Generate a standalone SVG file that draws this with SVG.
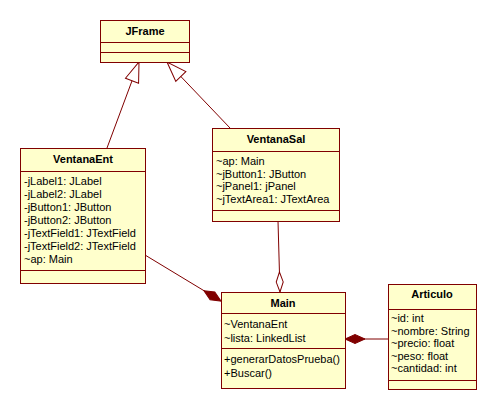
<svg xmlns="http://www.w3.org/2000/svg" width="496" height="411" viewBox="0 0 496 411">
<style>
.box{fill:#FFFFCC;stroke:#800000;stroke-width:1}
.sep{stroke:#800000;stroke-width:1}
.t{font-family:"Liberation Sans",Arial,sans-serif;font-size:11px;fill:#000}
.h{font-family:"Liberation Sans",Arial,sans-serif;font-size:11px;font-weight:bold;fill:#000;text-anchor:middle}
.c{stroke:#800000;stroke-width:1;fill:none}
</style>
<defs>
<marker id="gen" markerUnits="userSpaceOnUse" viewBox="-2 -9 24 18" markerWidth="24" markerHeight="18" refX="20" refY="0" orient="auto">
<path d="M0,-7 L20,0 L0,7 Z" fill="#fff" stroke="#800000" stroke-width="1"/>
</marker>
<marker id="comp" markerUnits="userSpaceOnUse" viewBox="-2 -7 26 14" markerWidth="26" markerHeight="14" refX="20" refY="0" orient="auto">
<path d="M0,0 L10,-4.5 L20,0 L10,4.5 Z" fill="#800000" stroke="#800000" stroke-width="1"/>
</marker>
<marker id="agg" markerUnits="userSpaceOnUse" viewBox="-2 -7 26 14" markerWidth="26" markerHeight="14" refX="20" refY="0" orient="auto">
<path d="M0,0 L10,-3.5 L20,0 L10,3.5 Z" fill="#fff" stroke="#800000" stroke-width="1"/>
</marker>
</defs>
<rect width="496" height="411" fill="#fff"/>
<g id="connectors">
<line class="c" x1="107" y1="148" x2="139" y2="62" marker-end="url(#gen)"/>
<line class="c" x1="230" y1="128" x2="167" y2="62" marker-end="url(#gen)"/>
<line class="c" x1="145" y1="255" x2="221" y2="301" marker-end="url(#comp)"/>
<line class="c" x1="278" y1="221" x2="280" y2="292" marker-end="url(#agg)"/>
<line class="c" x1="388" y1="339" x2="345" y2="339" marker-end="url(#comp)"/>
</g>
<g id="JFrame">
<rect class="box" x="100.5" y="20.5" width="89" height="42"/>
<line class="sep" x1="100.5" y1="42.5" x2="189.5" y2="42.5"/>
<line class="sep" x1="100.5" y1="52.5" x2="189.5" y2="52.5"/>
<text class="h" x="145" y="35">JFrame</text>
</g>
<g id="VentanaEnt">
<rect class="box" x="20.5" y="148.5" width="125" height="135"/>
<line class="sep" x1="20.5" y1="171.5" x2="145.5" y2="171.5"/>
<line class="sep" x1="20.5" y1="270.5" x2="145.5" y2="270.5"/>
<text class="h" x="83" y="163">VentanaEnt</text>
<text class="t" x="24" y="185">-jLabel1: JLabel</text>
<text class="t" x="24" y="198">-jLabel2: JLabel</text>
<text class="t" x="24" y="211">-jButton1: JButton</text>
<text class="t" x="24" y="224">-jButton2: JButton</text>
<text class="t" x="24" y="237">-jTextField1: JTextField</text>
<text class="t" x="24" y="250">-jTextField2: JTextField</text>
<text class="t" x="24" y="263">~ap: Main</text>
</g>
<g id="VentanaSal">
<rect class="box" x="212.5" y="128.5" width="127" height="93"/>
<line class="sep" x1="212.5" y1="151.5" x2="339.5" y2="151.5"/>
<line class="sep" x1="212.5" y1="210.5" x2="339.5" y2="210.5"/>
<text class="h" x="276" y="143">VentanaSal</text>
<text class="t" x="216" y="165">~ap: Main</text>
<text class="t" x="216" y="177.7">~jButton1: JButton</text>
<text class="t" x="216" y="190.3">~jPanel1: jPanel</text>
<text class="t" x="216" y="203">~jTextArea1: JTextArea</text>
</g>
<g id="Main">
<rect class="box" x="221.5" y="292.5" width="124" height="96"/>
<line class="sep" x1="221.5" y1="313.5" x2="345.5" y2="313.5"/>
<line class="sep" x1="221.5" y1="348.5" x2="345.5" y2="348.5"/>
<text class="h" x="283" y="307">Main</text>
<text class="t" x="224" y="328">~VentanaEnt</text>
<text class="t" x="224" y="342">~lista: LinkedList</text>
<text class="t" x="224" y="363">+generarDatosPrueba()</text>
<text class="t" x="224" y="377">+Buscar()</text>
</g>
<g id="Articulo">
<rect class="box" x="388.5" y="284.5" width="88" height="105"/>
<line class="sep" x1="388.5" y1="309.5" x2="476.5" y2="309.5"/>
<line class="sep" x1="388.5" y1="380.5" x2="476.5" y2="380.5"/>
<text class="h" x="432" y="298">Articulo</text>
<text class="t" x="391" y="322">~id: int</text>
<text class="t" x="391" y="334.5">~nombre: String</text>
<text class="t" x="391" y="347">~precio: float</text>
<text class="t" x="391" y="359.5">~peso: float</text>
<text class="t" x="391" y="372">~cantidad: int</text>
</g>
</svg>
